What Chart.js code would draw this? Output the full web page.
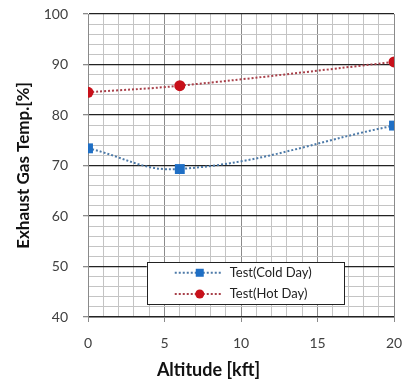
<!DOCTYPE html>
<html>
<head>
<meta charset="utf-8">
<script src="https://cdn.jsdelivr.net/npm/chart.js@4"></script>
<style>
  html, body { margin: 0; padding: 0; background: #fff; }
  #wrap { width: 403px; height: 387px; }
</style>
</head>
<body>
<div id="wrap"><canvas id="chart" width="403" height="387"></canvas></div>
<script>
  // altitude [kft] and exhaust gas temperature [%]
  const altitude = [0, 6, 20];
  const coldDay = [73.4, 69.3, 77.9];
  const hotDay = [84.5, 85.8, 90.5];
  const seriesNames = ["Test(Cold Day)", "Test(Hot Day)"];
  const xTitle = "Altitude [kft]";

  const FONT = "Lato, 'Open Sans', sans-serif";

  // legend box drawn inside the plot area, lower middle; x title centred on the canvas
  const boxLegend = {
    id: "boxLegend",
    afterDatasetsDraw(chart) {
      const { ctx, chartArea: a } = chart;
      const w = a.right - a.left, h = a.bottom - a.top;
      const x0 = a.left + w * 0.192, x1 = a.left + w * 0.837;
      const y0 = a.top + h * 0.819, y1 = a.top + h * 0.959;
      ctx.save();
      ctx.fillStyle = "#fff";
      ctx.fillRect(x0, y0, x1 - x0, y1 - y0);
      ctx.strokeStyle = "#222";
      ctx.lineWidth = 1;
      ctx.strokeRect(Math.round(x0) + 0.5, Math.round(y0) + 0.5, Math.round(x1 - x0), Math.round(y1 - y0));
      const rowH = (y1 - y0) / 2;
      chart.data.datasets.forEach((ds, i) => {
        const cy = y0 + rowH * (i + 0.5);
        ctx.strokeStyle = ds.borderColor;
        ctx.lineWidth = 2;
        ctx.setLineDash([2, 2]);
        ctx.beginPath();
        ctx.moveTo(x0 + 28, cy);
        ctx.lineTo(x0 + 74, cy);
        ctx.stroke();
        ctx.setLineDash([]);
        ctx.fillStyle = ds.pointBackgroundColor;
        if (ds.pointStyle === "rect") {
          ctx.fillRect(x0 + 49, cy - 4, 8, 8);
        } else {
          ctx.beginPath();
          ctx.arc(x0 + 53, cy, 4.5, 0, Math.PI * 2);
          ctx.fill();
        }
        ctx.fillStyle = "#222";
        ctx.font = "13px " + FONT;
        ctx.textBaseline = "middle";
        ctx.textAlign = "left";
        ctx.fillText(ds.label, x0 + 83, cy);
      });

      ctx.fillStyle = "#111";
      ctx.font = "bold 18px " + FONT;
      ctx.textAlign = "center";
      ctx.textBaseline = "middle";
      ctx.fillText(xTitle, chart.width / 2 + 7, chart.height - 17);
      ctx.restore();
    }
  };

  new Chart(document.getElementById("chart"), {
    type: "line",
    data: {
      datasets: [
        {
          label: seriesNames[0],
          data: altitude.map((x, i) => ({ x, y: coldDay[i] })),
          borderColor: "#4d7aa8",
          borderWidth: 2,
          borderDash: [2, 2],
          tension: 0.4,
          pointStyle: "rect",
          pointRadius: 7,
          pointBackgroundColor: "#1f6fc5",
          pointBorderColor: "#1f6fc5",
          pointBorderWidth: 0
        },
        {
          label: seriesNames[1],
          data: altitude.map((x, i) => ({ x, y: hotDay[i] })),
          borderColor: "#a8404a",
          borderWidth: 2,
          borderDash: [2, 2],
          tension: 0.4,
          pointStyle: "circle",
          pointRadius: 5.5,
          pointBackgroundColor: "#c8101a",
          pointBorderColor: "#c8101a",
          pointBorderWidth: 0
        }
      ]
    },
    options: {
      responsive: false,
      animation: false,
      layout: { padding: { top: 14, right: 9, left: 0, bottom: 0 } },
      plugins: {
        legend: { display: false },
        tooltip: { enabled: false }
      },
      scales: {
        x: {
          type: "linear",
          min: 0,
          max: 20,
          afterFit(s) {
            s.height = 70;
            s.paddingLeft = 0;
            s.paddingRight = 0;
          },
          ticks: {
            stepSize: 1,
            autoSkip: false,
            maxRotation: 0,
            padding: 13,
            color: "#404040",
            font: { family: FONT, size: 14 },
            callback: (v) => (v % 5 === 0 ? v : "")
          },
          grid: {
            tickLength: 5,
            color: (c) => (c.tick && c.tick.value % 5 === 0 ? "#8a8a8a" : "#c4c4c4"),
            tickColor: (c) => (c.tick && c.tick.value % 5 === 0 ? "#8a8a8a" : "rgba(0,0,0,0)")
          },
          border: { color: "#8a8a8a" }
        },
        y: {
          min: 40,
          max: 100,
          afterFit(s) {
            s.width = 88;
            s.paddingTop = 0;
            s.paddingBottom = 0;
          },
          ticks: {
            stepSize: 2,
            autoSkip: false,
            padding: 15,
            color: "#404040",
            font: { family: FONT, size: 14 },
            callback: (v) => (v % 10 === 0 ? v : "")
          },
          grid: {
            tickLength: 5,
            color: (c) => (c.tick && c.tick.value % 10 === 0 ? "#222" : "#c4c4c4"),
            lineWidth: (c) => (c.tick && c.tick.value % 10 === 0 ? 1.3 : 1),
            tickColor: (c) => (c.tick && c.tick.value % 10 === 0 ? "#8a8a8a" : "rgba(0,0,0,0)")
          },
          border: { color: "#8a8a8a" },
          title: {
            display: true,
            text: "Exhaust Gas Temp.[%]",
            color: "#111",
            font: { family: FONT, size: 17, weight: "bold" },
            padding: { top: 13, bottom: 0 }
          }
        }
      }
    },
    plugins: [boxLegend]
  });
</script>
</body>
</html>
